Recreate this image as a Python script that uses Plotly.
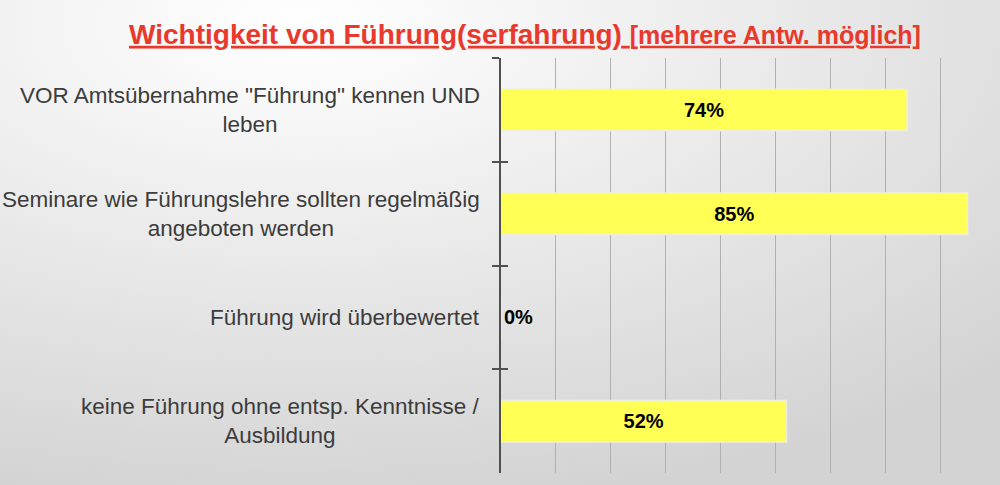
import base64
import plotly.graph_objects as go

# Daten
categories = [
    'VOR Amtsübernahme "Führung" kennen UND<br>leben',
    'Seminare wie Führungslehre sollten regelmäßig<br>angeboten werden',
    'Führung wird überbewertet',
    'keine Führung ohne entsp. Kenntnisse /<br>Ausbildung',
]
values = [74, 85, 0, 52]

title_main = 'Wichtigkeit von Führung(serfahrung)'
title_note = '[mehrere Antw. möglich]'

FONT = 'Liberation Sans, Arial, sans-serif'

# Hintergrund als SVG-Verlauf (hell oben links, grau nach rechts/unten)
svg = ("<svg xmlns='http://www.w3.org/2000/svg' width='1000' height='485' preserveAspectRatio='none'>"
       "<defs><radialGradient id='g' cx='0.3' cy='0.05' r='1.0'>"
       "<stop offset='0' stop-color='#ffffff'/><stop offset='0.25' stop-color='#f4f4f4'/>"
       "<stop offset='1' stop-color='#d3d3d3'/>"
       "</radialGradient></defs><rect width='1000' height='485' fill='url(#g)'/></svg>")
bg = 'data:image/svg+xml;base64,' + base64.b64encode(svg.encode()).decode()

fig = go.Figure()
fig.add_trace(go.Bar(
    x=values, y=categories, orientation='h', width=0.4,
    marker=dict(color='#ffff55', line=dict(color='#eeeedd', width=1.5)),
    texttemplate='%{x}%',
    textposition=['outside' if v == 0 else 'inside' for v in values],
    insidetextanchor='middle',
    textfont=dict(family=FONT, size=20, color='black', weight='bold'),
    cliponaxis=False, hoverinfo='skip',
))
# unsichtbare Spur, damit die zweite y-Achse (Striche nach innen) gezeichnet wird
fig.add_trace(go.Scatter(
    x=values, y=list(range(len(values))), yaxis='y2', mode='markers',
    marker=dict(opacity=0), hoverinfo='skip',
))

# Kategorienbeschriftung zentriert (wie im Original)
for c in categories:
    fig.add_annotation(x=0.482, xref='paper', y=c, yref='y', text=c,
                       xanchor='right', align='center', showarrow=False,
                       font=dict(family=FONT, size=22.5, color='#3c3c3c'))

boundaries = [i - 0.5 for i in range(len(categories) + 1)]

fig.update_layout(
    width=1000, height=485,
    margin=dict(l=0, r=0, t=0, b=0),
    paper_bgcolor='#e4e4e4', plot_bgcolor='rgba(0,0,0,0)',
    showlegend=False,
    images=[dict(source=bg, xref='paper', yref='paper', x=0, y=1, sizex=1, sizey=1,
                 xanchor='left', yanchor='top', sizing='stretch', layer='below')],
    title=dict(
        text='<u><b>' + title_main + '</b> <span style="font-size:25px"><b>' + title_note + '</b></span></u>',
        x=0.525, xanchor='center', y=0.93, yanchor='middle',
        font=dict(family=FONT, size=28, color='#e8392c'),
    ),
    xaxis=dict(domain=[0.501, 0.995], range=[0, 90], dtick=10, showgrid=True,
               gridcolor='#b0b0b0', gridwidth=1, zeroline=False,
               showticklabels=False, showline=False),
    yaxis=dict(domain=[1 - 473 / 485, 1 - 58 / 485], type='category',
               categoryarray=categories, autorange='reversed',
               showticklabels=False, showline=True, linecolor='#505050', linewidth=2,
               ticks='outside', tickson='boundaries', ticklen=7, tickwidth=2,
               tickcolor='#505050', showgrid=False, zeroline=False),
    yaxis2=dict(overlaying='y', anchor='x', side='left', range=[3.5, -0.5],
                tickvals=boundaries, ticks='inside', ticklen=7, tickwidth=2,
                tickcolor='#505050', showticklabels=False, showgrid=False,
                zeroline=False, showline=False),
)

fig.write_html('out.html', config={'displayModeBar': False},
               post_script="document.body.style.margin='0';document.body.style.overflow='hidden';")
